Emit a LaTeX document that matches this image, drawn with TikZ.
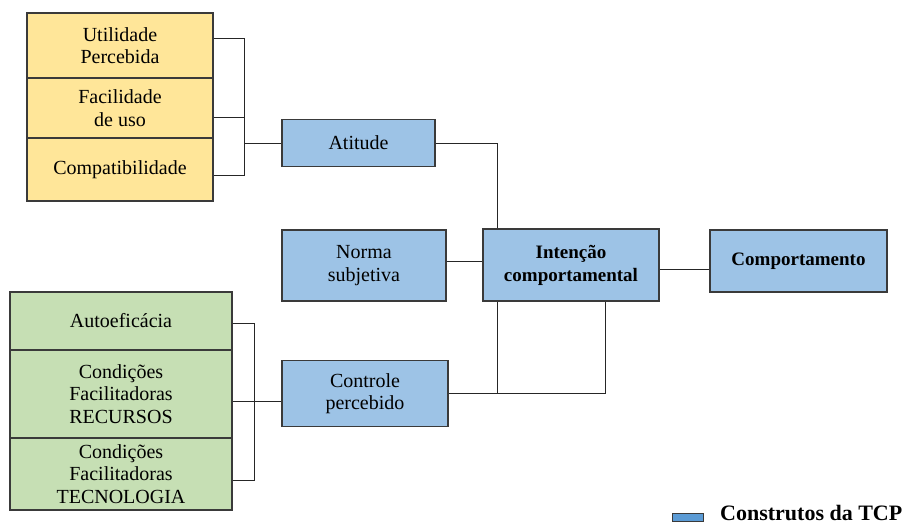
\documentclass[tikz,border=0pt]{standalone}
\usepackage{fontspec}
\setmainfont{Liberation Serif}
\newfontfamily\romana{Liberation Serif}
\definecolor{amarelo}{HTML}{FFE699}
\definecolor{verde}{HTML}{C6DFB4}
\definecolor{azul}{HTML}{9DC3E6}
\definecolor{azulleg}{HTML}{5B9BD5}
\definecolor{borda}{HTML}{3A3A3A}
\tikzset{
  caixa/.style={draw=borda, line width=1.2pt, align=center, inner sep=0pt,
    font=\romana\fontsize{20}{22.5}\selectfont},
  externo/.style={caixa, minimum width=#1},
  tcp/.style={caixa, fill=azul},
  link/.style={draw=black!85, line width=1pt}
}
\begin{document}
\begin{tikzpicture}[x=1pt, y=-1pt]
    \useasboundingbox (0,0) rectangle (905,525);

    % fatores da atitude
    \node[externo=186pt, fill=amarelo, minimum height=65pt] (util) at (120,45.5) {Utilidade\\Percebida};
    \node[externo=186pt, fill=amarelo, minimum height=60pt] (facil) at (120,108) {Facilidade\\de uso};
    \node[externo=186pt, fill=amarelo, minimum height=63pt] (compat) at (120,169.5) {Compatibilidade};

    % fatores do controle
    \node[externo=222pt, fill=verde, minimum height=58pt] (auto) at (121,321) {Autoeficácia};
    \node[externo=222pt, fill=verde, minimum height=88pt] (recur) at (121,394) {Condições\\Facilitadoras\\RECURSOS};
    \node[externo=222pt, fill=verde, minimum height=72pt] (tecno) at (121,474) {Condições\\Facilitadoras\\TECNOLOGIA};

    % construtos da TCP
    \node[tcp, minimum width=153pt, minimum height=47pt] (atit) at (358.5,143) {Atitude};
    \node[tcp, minimum width=164pt, minimum height=71pt] (norma) at (364,265.5) {Norma\\subjetiva};
    \node[tcp, minimum width=166pt, minimum height=66pt] (contr) at (365,393.5) {Controle\\percebido};
    \node[tcp, minimum width=176pt, minimum height=72pt, font=\romana\fontsize{19}{23}\selectfont\bfseries] (inten) at (571,265) {Intenção\\comportamental};
    \node[tcp, minimum width=177pt, minimum height=62pt, font=\romana\fontsize{19}{23}\selectfont\bfseries] (comp) at (798.5,261) {Comportamento};

    % colchetes
    \coordinate (jA) at (244,143);
    \coordinate (jC) at (254,401);
    \draw[link] ([yshift=7.5pt]util.east) -| (jA |- 0,175) -- ([yshift=-5.5pt]compat.east);
    \draw[link] ([yshift=-9pt]facil.east) -- (jA |- 0,117);
    \draw[link] (jA) -- (atit.west);
    \draw[link] ([yshift=-2pt]auto.east) -| (jC |- 0,480) -- ([yshift=-6pt]tecno.east);
    \draw[link] ([yshift=-7pt]recur.east) -- ([yshift=-7.5pt]contr.west);

    % ligacoes da TCP
    \draw[link] (atit.east) -| ([xshift=15pt]inten.north west);
    \draw[link] ([yshift=4pt]norma.east) -- ([yshift=4pt]norma.east -| inten.west);
    \draw[link] ([yshift=-4pt]inten.east) -- ([yshift=-4pt]inten.east -| comp.west);
    \draw[link] (contr.east) -| ([xshift=-54pt]inten.south east);
    \draw[link] ([xshift=15pt]inten.south west) -- ([xshift=15pt]inten.south west |- contr.east);

    % legenda
    \node[draw=borda, line width=1pt, fill=azulleg, minimum width=31pt, minimum height=8pt, inner sep=0pt] (leg) at (687.5,517) {};
    \node[anchor=base west, font=\romana\fontsize{22}{24}\selectfont\bfseries, inner sep=0pt] (legtxt) at (720,520) {Construtos da TCP};
\end{tikzpicture}
\end{document}
